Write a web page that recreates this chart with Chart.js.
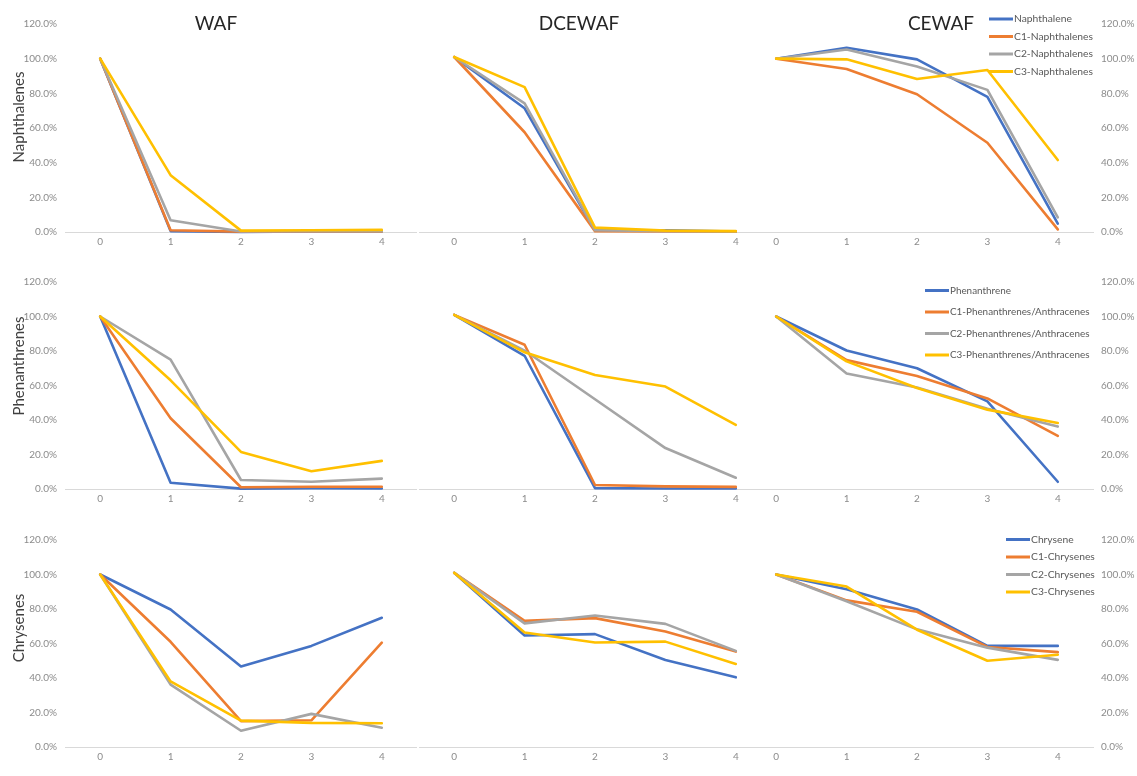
<!DOCTYPE html>
<html>
<head>
<meta charset="utf-8">
<title>PAH depletion by fraction</title>
<script src="https://cdn.jsdelivr.net/npm/chart.js@4.4.1/dist/chart.umd.min.js"></script>
<style>
  html, body { margin: 0; padding: 0; background: #ffffff; }
  #wrap { position: relative; width: 1137px; height: 776px; overflow: hidden; font-family: Lato, "Noto Sans", sans-serif; }
  canvas.panel { position: absolute; }
  .colTitle { position: absolute; font-size: 19px; color: #262626; transform: translate(-50%, -50%); white-space: nowrap; }
  .rowTitle { position: absolute; font-size: 15px; color: #404040; transform: translate(-50%, -50%) rotate(-90deg); white-space: nowrap; }
</style>
</head>
<body>
<div id="wrap"></div>
<script>
// ---- data -------------------------------------------------------------
const timePoints = ['0', '1', '2', '3', '4'];
const methods = ['WAF', 'DCEWAF', 'CEWAF'];
const groups = ['Naphthalenes', 'Phenanthrenes', 'Chrysenes'];

const naphthaleneSeries = ['Naphthalene', 'C1-Naphthalenes', 'C2-Naphthalenes', 'C3-Naphthalenes'];
const phenanthreneSeries = ['Phenanthrene', 'C1-Phenanthrenes/Anthracenes', 'C2-Phenanthrenes/Anthracenes', 'C3-Phenanthrenes/Anthracenes'];
const chryseneSeries = ['Chrysene', 'C1-Chrysenes', 'C2-Chrysenes', 'C3-Chrysenes'];

// remaining fraction (%) — one row per series
const naphthalenesWAF = [
  [100, 0.5, 0.0, 0.3, 0.3],
  [100, 1.0, 0.2, 0.3, 0.3],
  [100, 6.8, 0.3, 0.5, 0.5],
  [100, 32.8, 0.8, 1.0, 1.2]
];
const naphthalenesDCEWAF = [
  [100, 70.7, 0.8, 1.0, 0.3],
  [100, 57.0, 0.5, 0.3, 0.2],
  [100, 73.5, 1.0, 0.5, 0.3],
  [100, 82.8, 2.5, 0.8, 0.5]
];
const naphthalenesCEWAF = [
  [100, 106.3, 99.6, 78.0, 4.8],
  [100, 94.0, 79.5, 51.5, 1.5],
  [100, 105.3, 95.5, 82.0, 8.5],
  [100, 99.6, 88.3, 93.5, 41.5]
];

const phenanthrenesWAF = [
  [100, 3.6, 0.2, 0.5, 0.3],
  [100, 41.0, 1.0, 1.3, 1.3],
  [100, 75.0, 5.2, 4.2, 6.0],
  [100, 63.0, 21.5, 10.3, 16.3]
];
const phenanthrenesDCEWAF = [
  [100, 76.5, 0.5, 0.3, 0.3],
  [100, 82.8, 2.3, 1.5, 1.2],
  [100, 79.5, 51.5, 23.5, 6.5],
  [100, 78.5, 65.5, 58.8, 36.8]
];
const phenanthrenesCEWAF = [
  [100, 80.3, 70.0, 50.8, 4.2],
  [100, 74.7, 65.5, 52.5, 30.8],
  [100, 67.0, 58.8, 46.5, 36.2],
  [100, 74.0, 58.5, 46.0, 38.3]
];

const chrysenesWAF = [
  [100, 79.7, 46.7, 58.6, 74.9],
  [100, 61.0, 15.0, 15.5, 60.5],
  [100, 36.2, 9.4, 19.2, 11.2],
  [100, 38.0, 15.3, 14.0, 13.8]
];
const chrysenesDCEWAF = [
  [100, 64.0, 64.8, 50.0, 40.0],
  [100, 72.4, 74.0, 66.3, 54.8],
  [100, 71.0, 75.5, 70.7, 55.2],
  [100, 65.7, 60.0, 60.5, 47.7]
];
const chrysenesCEWAF = [
  [100, 91.5, 79.7, 58.6, 58.6],
  [100, 85.0, 78.4, 58.0, 55.0],
  [100, 84.5, 68.2, 57.6, 50.5],
  [100, 93.0, 68.0, 50.0, 53.5]
];

// ---- styling / layout ---------------------------------------------------
const seriesColors = ['#4472C4', '#ED7D31', '#A5A5A5', '#FFC000'];
const tickColor = '#8c8c8c';
const fontFamily = 'Lato, "Noto Sans", sans-serif';

const PAD_TOP = 12;     // room above the 120% line inside each canvas
const XAXIS_H = 22;     // height reserved for the category labels

// plot-area top (120%) and bottom (0%) of each row, in page pixels
const rowGeom = [
  { top: 22, bottom: 232 },
  { top: 280, bottom: 489 },
  { top: 538, bottom: 747 }
];
// canvas placement of each column; yw = width of the value axis (0 = hidden)
const colGeom = [
  { left: 0,   width: 417, yw: 65, pos: 'left' },
  { left: 419, width: 352, yw: 0,  pos: 'left' },
  { left: 741, width: 396, yw: 44, pos: 'right' }
];

const rowData = [
  { names: naphthaleneSeries,  panels: [naphthalenesWAF, naphthalenesDCEWAF, naphthalenesCEWAF],
    legend: { x: 989, y: 19, gap: 17.5, size: 10.3 } },
  { names: phenanthreneSeries, panels: [phenanthrenesWAF, phenanthrenesDCEWAF, phenanthrenesCEWAF],
    legend: { x: 925, y: 290.5, gap: 21.5, size: 9.9 } },
  { names: chryseneSeries,     panels: [chrysenesWAF, chrysenesDCEWAF, chrysenesCEWAF],
    legend: { x: 1006, y: 539.5, gap: 17.5, size: 10.3 } }
];

// legend drawn inside the plot area, next to the right-hand axis
const insetLegend = {
  id: 'insetLegend',
  afterDraw(chart, args, opts) {
    if (!opts || !opts.show) return;
    const ctx = chart.ctx;
    ctx.save();
    ctx.font = opts.fontSize + 'px ' + fontFamily;
    ctx.textBaseline = 'middle';
    ctx.textAlign = 'left';
    chart.data.datasets.forEach((ds, i) => {
      const y = opts.y + i * opts.gap;
      ctx.strokeStyle = ds.borderColor;
      ctx.lineWidth = 3;
      ctx.beginPath();
      ctx.moveTo(opts.x, y);
      ctx.lineTo(opts.x + opts.sample, y);
      ctx.stroke();
      ctx.fillStyle = '#595959';
      ctx.fillText(ds.label, opts.x + opts.sample + 1, y);
    });
    ctx.restore();
  }
};

const wrap = document.getElementById('wrap');

function makePanel(r, c) {
  const rg = rowGeom[r];
  const cg = colGeom[c];
  const rd = rowData[r];
  const canvasTop = rg.top - PAD_TOP;
  const canvasH = (rg.bottom - rg.top) + PAD_TOP + XAXIS_H;

  const canvas = document.createElement('canvas');
  canvas.className = 'panel';
  canvas.width = cg.width;
  canvas.height = canvasH;
  canvas.style.left = cg.left + 'px';
  canvas.style.top = canvasTop + 'px';
  canvas.style.width = cg.width + 'px';
  canvas.style.height = canvasH + 'px';
  wrap.appendChild(canvas);

  const datasets = rd.panels[c].map((vals, i) => ({
    label: rd.names[i],
    data: vals,
    borderColor: seriesColors[i],
    backgroundColor: seriesColors[i],
    borderWidth: 2.6,
    pointRadius: 0,
    tension: 0,
    fill: false,
    clip: false,
    borderJoinStyle: 'round',
    borderCapStyle: 'round',
    order: 3 - i
  }));

  const showLegend = c === 2;

  new Chart(canvas, {
    type: 'line',
    data: { labels: timePoints, datasets },
    options: {
      responsive: false,
      animation: false,
      devicePixelRatio: 1,
      layout: { padding: { top: PAD_TOP, right: 0, bottom: 0, left: 0 } },
      font: { family: fontFamily },
      scales: {
        x: {
          offset: true,
          ticks: { padding: 4, color: tickColor, font: { family: fontFamily, size: 10 } },
          grid: { display: false, drawTicks: false },
          border: { display: true, color: '#d9d9d9', width: 1 },
          afterFit: (s) => { s.height = XAXIS_H; }
        },
        y: {
          display: cg.yw > 0,
          position: cg.pos,
          min: 0,
          max: 120,
          ticks: {
            stepSize: 20,
            padding: 8,
            color: tickColor,
            font: { family: fontFamily, size: 10 },
            callback: (v) => Number(v).toFixed(1) + '%'
          },
          grid: { display: false, drawTicks: false },
          border: { display: false },
          afterFit: (s) => { s.width = cg.yw; }
        }
      },
      plugins: {
        legend: { display: false },
        tooltip: { enabled: false },
        insetLegend: {
          show: showLegend,
          x: rd.legend.x - cg.left,
          y: rd.legend.y - canvasTop,
          gap: rd.legend.gap,
          sample: 24,
          fontSize: rd.legend.size
        }
      }
    },
    plugins: [insetLegend]
  });
}

for (let r = 0; r < 3; r++) {
  for (let c = 0; c < 3; c++) makePanel(r, c);
}

// column headings and row headings
const colTitlePos = [{ x: 216, y: 22 }, { x: 579, y: 22 }, { x: 941, y: 22 }];
methods.forEach((m, i) => {
  const d = document.createElement('div');
  d.className = 'colTitle';
  d.textContent = m;
  d.style.left = colTitlePos[i].x + 'px';
  d.style.top = colTitlePos[i].y + 'px';
  wrap.appendChild(d);
});
const rowTitleY = [117, 366, 628];
groups.forEach((g, i) => {
  const d = document.createElement('div');
  d.className = 'rowTitle';
  d.textContent = g;
  d.style.left = '18px';
  d.style.top = rowTitleY[i] + 'px';
  wrap.appendChild(d);
});
</script>
</body>
</html>
